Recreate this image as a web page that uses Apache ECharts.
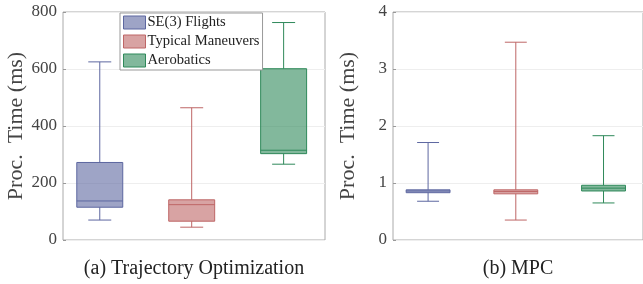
<!DOCTYPE html>
<html>
<head>
<meta charset="utf-8">
<title>Proc. Time boxplots</title>
<style>
html,body{margin:0;padding:0;background:#fff;}
#chart{width:643px;height:284px;}
</style>
<script src="https://cdn.jsdelivr.net/npm/echarts@6/dist/echarts.min.js"></script>
</head>
<body>
<div id="chart"></div>
<script>
// groups
var groups = ['SE(3) Flights', 'Typical Maneuvers', 'Aerobatics'];
var lineColors = ['#5d67a0', '#be6666', '#2f895a'];
var fillColors = ['rgba(93,103,160,0.6)', 'rgba(190,102,102,0.6)', 'rgba(47,137,90,0.6)'];

// [min, q1, median, q3, max]
var trajOpt = [
  [70, 115, 137, 272, 625],
  [45, 66, 124, 141, 464],
  [266, 303, 315, 601, 763]
];
var mpc = [
  [0.68, 0.83, 0.86, 0.88, 1.71],
  [0.35, 0.81, 0.85, 0.88, 3.47],
  [0.65, 0.86, 0.91, 0.96, 1.83]
];
var ticksA = [0, 200, 400, 600, 800];
var ticksB = [0, 1, 2, 3, 4];

var serif = 'Liberation Serif';

function renderBox(params, api) {
  var x = api.value(0);
  var lo = api.coord([x, api.value(1)]);
  var q1 = api.coord([x, api.value(2)]);
  var md = api.coord([x, api.value(3)]);
  var q3 = api.coord([x, api.value(4)]);
  var hi = api.coord([x, api.value(5)]);
  var bw = api.size([0.5, 0])[0];
  var cw = api.size([0.25, 0])[0];
  var c = lineColors[params.seriesIndex % 3];
  var f = fillColors[params.seriesIndex % 3];
  var ls = {stroke: c, lineWidth: 1};
  return {
    type: 'group',
    children: [
      {type: 'line', shape: {x1: hi[0], y1: hi[1], x2: q3[0], y2: q3[1]}, style: ls},
      {type: 'line', shape: {x1: lo[0], y1: lo[1], x2: q1[0], y2: q1[1]}, style: ls},
      {type: 'line', shape: {x1: hi[0] - cw / 2, y1: hi[1], x2: hi[0] + cw / 2, y2: hi[1]}, style: ls},
      {type: 'line', shape: {x1: lo[0] - cw / 2, y1: lo[1], x2: lo[0] + cw / 2, y2: lo[1]}, style: ls},
      {type: 'rect', shape: {x: q3[0] - bw / 2, y: q3[1], width: bw, height: q1[1] - q3[1]},
        style: {fill: f, stroke: c, lineWidth: 1}},
      {type: 'line', shape: {x1: md[0] - bw / 2, y1: md[1], x2: md[0] + bw / 2, y2: md[1]}, style: ls}
    ]
  };
}

function yAxisFor(idx, ticks) {
  return {
    type: 'value', gridIndex: idx,
    min: ticks[0], max: ticks[ticks.length - 1], interval: ticks[1] - ticks[0],
    name: 'Proc.  Time (ms)', nameLocation: 'middle', nameGap: 34,
    nameTextStyle: {fontFamily: serif, fontSize: 22, color: '#444'},
    axisLine: {show: false},
    axisTick: {show: true, inside: true, length: 3, lineStyle: {color: '#999'}},
    axisLabel: {fontFamily: serif, fontSize: 17, color: '#444', margin: 6},
    splitLine: {lineStyle: {color: '#eeeeee'}}
  };
}

function xAxisFor(idx, title) {
  return {
    type: 'value', gridIndex: idx, min: 0.6, max: 3.45,
    name: title, nameLocation: 'middle', nameGap: 19,
    nameTextStyle: {fontFamily: serif, fontSize: 20, color: '#222'},
    axisLine: {show: false}, axisTick: {show: false},
    axisLabel: {show: false}, splitLine: {show: false}
  };
}

var series = [];
groups.forEach(function (g, i) {
  series.push({
    name: g, type: 'custom', xAxisIndex: 0, yAxisIndex: 0,
    renderItem: renderBox,
    itemStyle: {color: fillColors[i]},
    data: [[i + 1].concat(trajOpt[i])]
  });
});
groups.forEach(function (g, i) {
  series.push({
    name: g, type: 'custom', xAxisIndex: 1, yAxisIndex: 1,
    renderItem: renderBox,
    itemStyle: {color: fillColors[i]},
    data: [[i + 1].concat(mpc[i])]
  });
});

var chart = echarts.init(document.getElementById('chart'), null, {renderer: 'canvas'});
chart.setOption({
  animation: false,
  grid: [
    {left: 63, top: 12, width: 262, height: 237, show: true, borderColor: '#aaa', borderWidth: 1},
    {left: 393, top: 12, width: 262, height: 237, show: true, borderColor: '#aaa', borderWidth: 1}
  ],
  legend: {
    orient: 'vertical', left: 120, top: 13,
    padding: [2, 3, 2, 3], itemGap: 4, itemWidth: 22, itemHeight: 13,
    backgroundColor: '#fff', borderColor: '#999', borderWidth: 1, borderRadius: 0,
    textStyle: {fontFamily: serif, fontSize: 14.6, color: '#222', padding: [0, 0, 0, -3]},
    data: groups.map(function (g, i) {
      return {name: g, icon: 'rect', itemStyle: {color: fillColors[i], borderColor: lineColors[i], borderWidth: 1}};
    })
  },
  xAxis: [xAxisFor(0, '(a) Trajectory Optimization'), xAxisFor(1, '(b) MPC')],
  yAxis: [yAxisFor(0, ticksA), yAxisFor(1, ticksB)],
  series: series
});
</script>
</body>
</html>
